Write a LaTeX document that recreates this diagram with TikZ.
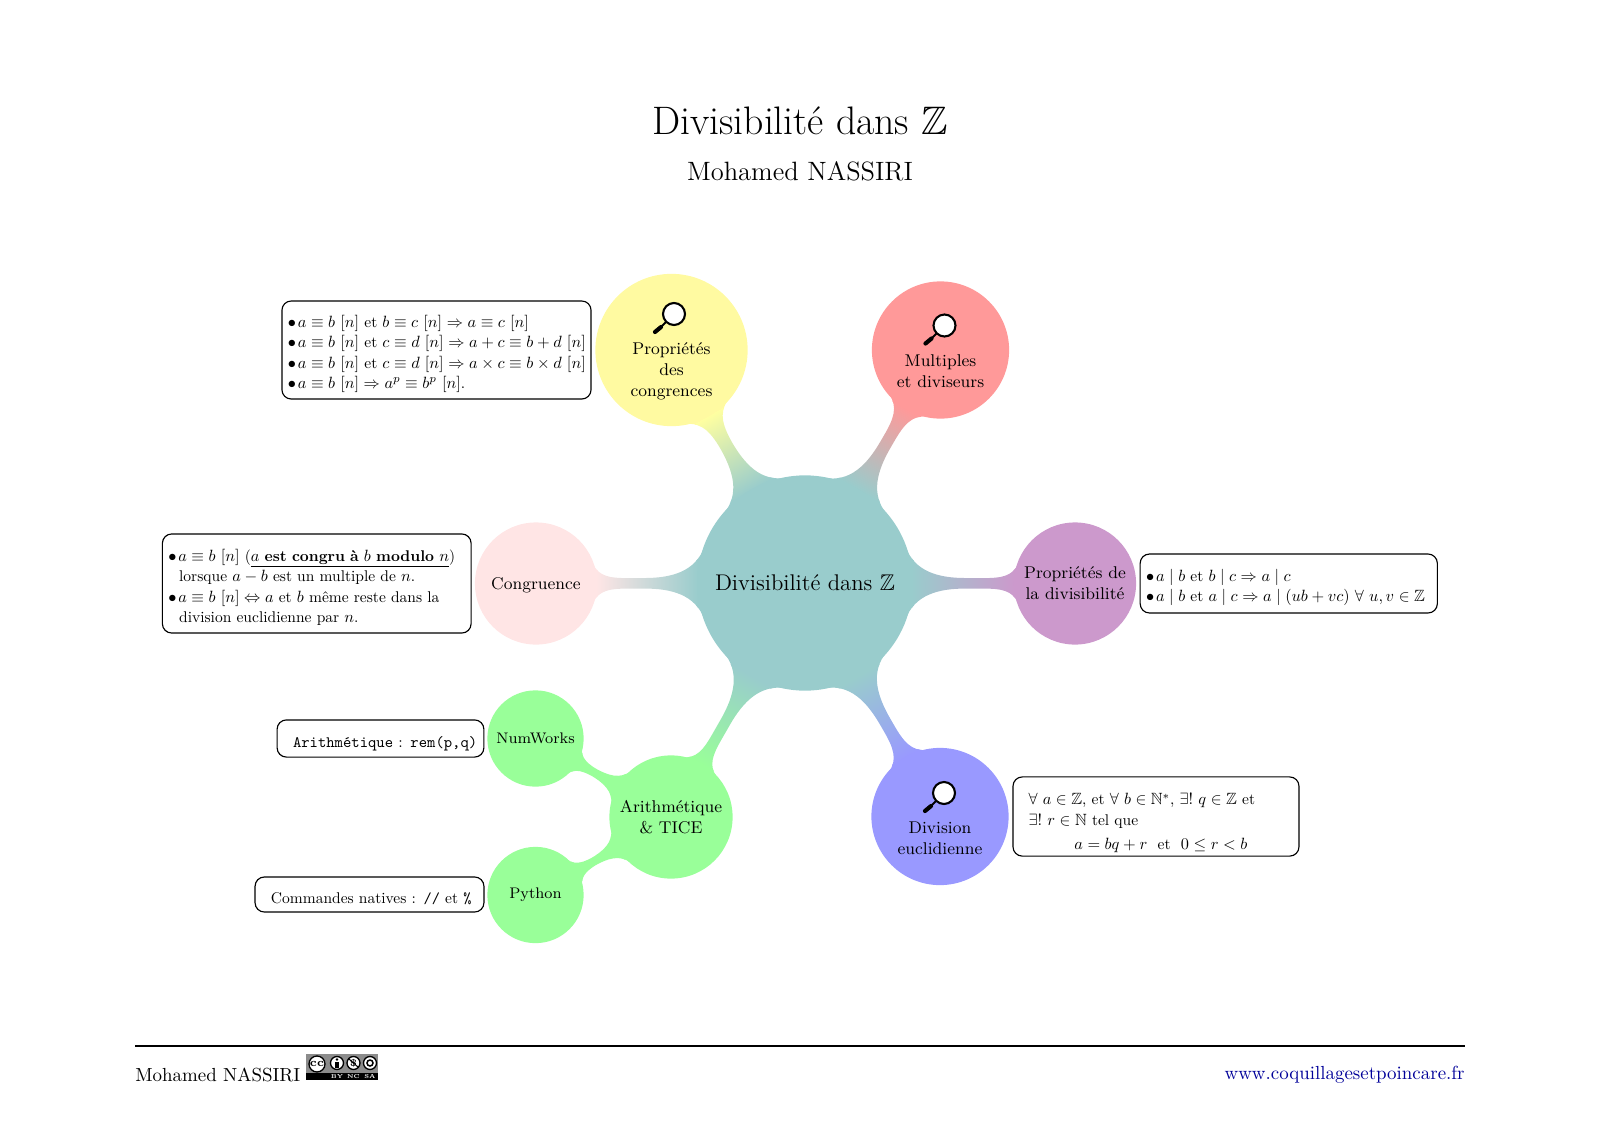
\documentclass[tikz,border=0pt]{standalone}
\usepackage{fix-cm}
\usepackage{amsmath,amssymb}
\usetikzlibrary{mindmap,backgrounds}
\DeclareMathSizes{10}{10.5}{7.35}{5.25}
\newcommand{\decal}{\rule{0pt}{12.8pt}}
\newcommand{\puce}{\bullet\mkern2mu}
\tikzset{
  bulle/.style={circle,inner sep=0pt,outer sep=0pt,align=center,line width=.8pt,font=\fontsize{9}{11}\selectfont},
  boite/.style={draw,rounded corners=4.9pt,line width=.6pt,inner xsep=0pt,inner ysep=0pt,align=left,scale=.82,transform shape,font=\fontsize{10}{13.17}\selectfont},
  loupe/.pic={
    \draw[line width=2.2pt,line cap=round] (-13,13) -- (-19,18);
    \draw[line width=1pt] (-8,8) -- (-13,13);
    \draw[line width=1.1pt,fill=white] (0,0) circle[radius=11];
  }
}
\begin{document}
\begin{tikzpicture}[x=.0185625cm,y=-.0185625cm]
\useasboundingbox (0,0) rectangle (1600,1131);
% Title
\node[font=\fontsize{21}{25}\selectfont] (titre) at (800,121) {Divisibilité dans $\mathbb{Z}$};
\node[font=\fontsize{14}{17}\selectfont] (auteur) at (800,171) {Mohamed NASSIRI};
% Central circle and its children
\node[bulle,fill=teal!40,draw=teal!40,minimum size=3.97cm,font=\large,text depth=0pt] (centre) at (805,583) {Divisibilité dans $\mathbb{Z}$};
\node[bulle,fill=yellow!37,draw=yellow!37,minimum size=2.8cm] (congr) at (671.5,350) {\\[18pt]Propriétés\\des\\congrences};
\node[bulle,fill=red!40,draw=red!40,minimum size=2.52cm] (multi) at (940.5,350) {\\[18pt]Multiples\\et diviseurs};
\node[bulle,fill=violet!40,draw=violet!40,minimum size=2.24cm] (divis) at (1075,583.5) {Propriétés de\\la divisibilité};
\node[bulle,fill=blue!40,draw=blue!40,minimum size=2.52cm] (eucl) at (940,816.5) {\\[18pt]Division\\euclidienne};
\node[bulle,fill=green!40,draw=green!40,minimum size=2.26cm] (tice) at (671,817) {Arithmétique\\\& TICE};
\node[bulle,fill=pink!40,draw=pink!40,minimum size=2.24cm,text depth=0pt] (congruence) at (536,583.5) {Congruence};
% Grand children
\node[bulle,fill=green!40,draw=green!40,minimum size=1.76cm,font=\fontsize{8.1}{10}\selectfont] (numworks) at (535.5,738.5) {NumWorks};
\node[bulle,fill=green!40,draw=green!40,minimum size=1.76cm,font=\fontsize{8.1}{10}\selectfont] (python) at (535.5,895) {Python};
% Connections
\begin{scope}[on background layer]
\path (centre) to[circle connection bar switch color=from (teal!40) to (yellow!37)] (congr);
\path (centre) to[circle connection bar switch color=from (teal!40) to (red!40)] (multi);
\path (centre) to[circle connection bar switch color=from (teal!40) to (violet!40)] (divis);
\path (centre) to[circle connection bar switch color=from (teal!40) to (blue!40)] (eucl);
\path (centre) to[circle connection bar switch color=from (teal!40) to (green!40)] (tice);
\path (centre) to[circle connection bar switch color=from (teal!40) to (pink!40)] (congruence);
\path (tice) to[circle connection bar switch color=from (green!40) to (green!40)] (numworks);
\path (tice) to[circle connection bar switch color=from (green!40) to (green!40)] (python);
\end{scope}
% Magnifiers
\pic at (674,314) {loupe};
\pic at (944.5,325.5) {loupe};
\pic at (944,793) {loupe};
% Text boxes
\node[boite,minimum width=7cm,minimum height=2.22cm,text width=6.73cm] (boxcongr) at (436.5,350) {%
\decal$\puce a\equiv b~[n]$ et $b\equiv c~[n]\Rightarrow a\equiv c~[n]$\\
\mbox{$\puce a\equiv b~[n]$ et $c\equiv d~[n]\Rightarrow a+c\equiv b+d~[n]$}\\
\mbox{$\puce a\equiv b~[n]$ et $c\equiv d~[n]\Rightarrow a\times c\equiv b\times d~[n]$}\\
$\puce a\equiv b~[n]\Rightarrow a^p\equiv b^p~[n]$.};
\node[boite,minimum width=6.99cm,minimum height=2.244cm,text width=6.72cm] (boxcongruence) at (316.75,583.5) {%
\decal\mbox{$\puce a\equiv b~[n]$ (\underline{$a$ \textbf{est congru à} $b$ \textbf{modulo} $n$})}\\
\hspace*{.244cm}lorsque $a-b$ est un multiple de $n$.\\
$\puce a\equiv b~[n]\Leftrightarrow a$ et $b$ même reste dans la\\
\hspace*{.244cm}division euclidienne par $n$.};
\node[boite,minimum width=6.73cm,minimum height=1.335cm,text width=6.46cm] (boxdivis) at (1288.75,583.5) {%
\decal$\puce a\mid b$ et $b\mid c\Rightarrow a\mid c$\\
\mbox{$\puce a\mid b$ et $a\mid c\Rightarrow a\mid(ub+vc)~\forall~u,v\in\mathbb{Z}$}};
\node[boite,minimum width=6.476cm,minimum height=1.793cm,text width=5.77cm] (boxeucl) at (1156,816.5) {%
\rule{0pt}{15.85pt}\mbox{$\forall~a\in\mathbb{Z}$, et $\forall~b\in\mathbb{N}^*$, $\exists!~q\in\mathbb{Z}$ et}\\
$\exists!~r\in\mathbb{N}$ tel que\\[2.4pt]
\hspace*{1.037cm}$a=bq+r$\ \ et\ \ $0\leq r<b$};
\node[boite,minimum width=4.683cm,minimum height=.841cm,text width=3.963cm,text height=13.4pt,text depth=2.4pt] (boxnum) at (380.5,738.5) {\fontsize{10.24}{13}\selectfont\mbox{\texttt{Arithmétique} : \texttt{rem(p,q)}}};
\node[boite,minimum width=5.183cm,minimum height=.793cm,text width=4.463cm,text height=13.4pt,text depth=2.4pt] (boxpy) at (369.5,894.5) {\mbox{Commandes natives : \texttt{//} et \texttt{\%}}};
% Footer
\draw[line width=1pt] (135,1046) -- (1465,1046);
\node[anchor=west,inner sep=0pt] (pied) at (135,1075) {Mohamed NASSIRI};
\node[anchor=east,inner sep=0pt,text=blue!60!black] (site) at (1465,1075) {www.coquillagesetpoincare.fr};
% Licence badge
\fill[black!45] (306,1054) rectangle (378,1080);
\fill[black] (306,1073) rectangle (378,1080);
\draw[line width=.7pt,fill=white] (317,1064) circle[radius=8];
\foreach \x in {337,353.5,370}
  \draw[line width=.7pt,fill=white] (\x,1063) circle[radius=6.5];
\node[inner sep=0pt,font=\fontsize{6}{6}\selectfont\bfseries] (cc) at (317,1064) {cc};
\node[inner sep=0pt,font=\fontsize{5}{5}\selectfont\bfseries] (nc) at (353.5,1063) {\$};
\fill (337,1059.5) circle[radius=1.4];
\fill (335.3,1062) rectangle (338.7,1067.5);
\draw[line width=.5pt] (349,1059) -- (358,1067);
\draw[line width=.8pt] (370,1063) circle[radius=3];
\node[inner sep=0pt,text=white,font=\fontsize{3}{3}\selectfont\bfseries] (by) at (337,1076.5) {BY};
\node[inner sep=0pt,text=white,font=\fontsize{3}{3}\selectfont\bfseries] (nclab) at (353.5,1076.5) {NC};
\node[inner sep=0pt,text=white,font=\fontsize{3}{3}\selectfont\bfseries] (sa) at (370,1076.5) {SA};
\end{tikzpicture}
\end{document}
